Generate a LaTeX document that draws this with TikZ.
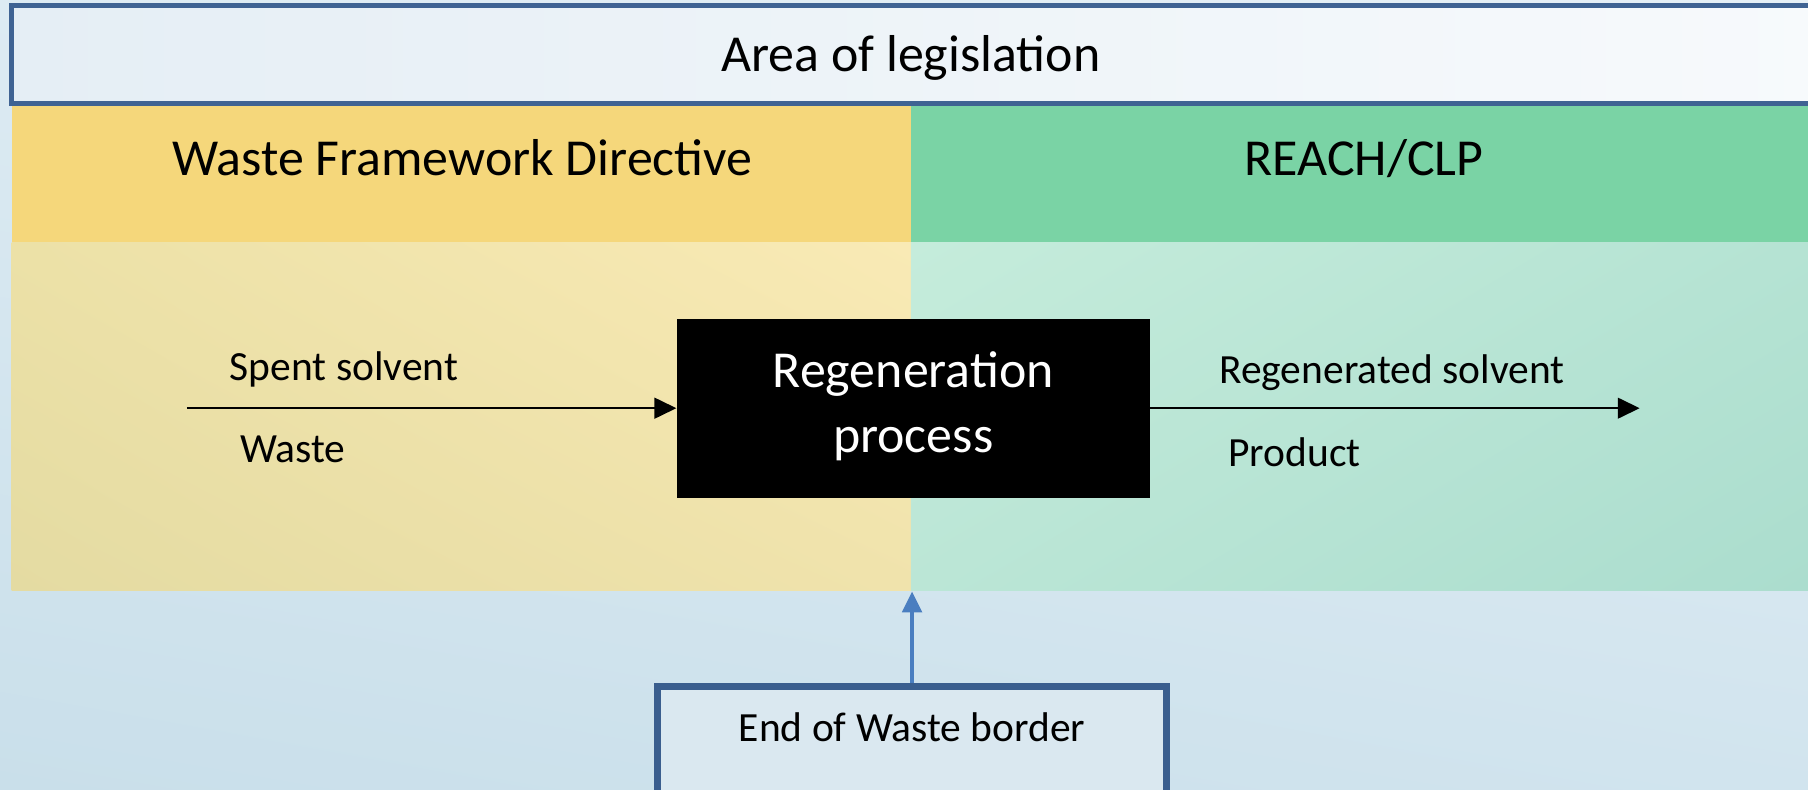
\documentclass[tikz,border=0pt]{standalone}
\usepackage{fontspec}
\setmainfont{Carlito}
\usetikzlibrary{arrows.meta,shadings}
\definecolor{bgUL}{HTML}{DDEBF3}
\definecolor{bgUR}{HTML}{E6F0F6}
\definecolor{bgLL}{HTML}{C9DFEA}
\definecolor{bgLR}{HTML}{D1E4EE}
\definecolor{topL}{HTML}{E5EEF5}
\definecolor{topR}{HTML}{F7FAFC}
\definecolor{frameblue}{HTML}{3F6393}
\definecolor{frameblue2}{HTML}{3A5E8E}
\definecolor{wfdhead}{HTML}{F5D77B}
\definecolor{reachhead}{HTML}{7AD3A5}
\definecolor{wfdUL}{HTML}{ECE1A7}
\definecolor{wfdUR}{HTML}{F9EAB5}
\definecolor{wfdLL}{HTML}{E4DBA2}
\definecolor{wfdLR}{HTML}{F0E3AC}
\definecolor{reUL}{HTML}{C5ECDB}
\definecolor{reUR}{HTML}{B5E3D3}
\definecolor{reLL}{HTML}{BBE6D6}
\definecolor{reLR}{HTML}{ABDDCE}
\definecolor{eowfill}{HTML}{DAE8F0}
\definecolor{arrowblue}{HTML}{4A7EC0}
\begin{document}
\begin{tikzpicture}[x=0.5pt,y=-0.5pt,
  big/.style={font=\fontsize{22.5}{28}\selectfont, inner sep=0pt},
  small/.style={font=\fontsize{18}{22}\selectfont, inner sep=0pt},
  flow/.style={line width=0.9pt, -{Triangle[length=9.5pt,width=9pt]}},
  borderarrow/.style={draw=arrowblue, line width=1.5pt, -{Triangle[length=9pt,width=8.5pt]}, color=arrowblue}]
\useasboundingbox (0,0) rectangle (1568,685);
\clip (0,0) rectangle (1568,685);
% background
\shade[upper left=bgUL, upper right=bgUR, lower left=bgLL, lower right=bgLR] (0,0) rectangle (1568,685);
% top box
\shade[left color=topL, right color=topR] (10,5) rectangle (1590,90);
\draw[draw=frameblue, line width=2pt] (10,5) rectangle (1590,90);
\node[big, anchor=base] (area) at (790,62) {Area of legislation};
% headers
\fill[wfdhead] (10,92) rectangle (790,210);
\fill[reachhead] (790,92) rectangle (1568,210);
\node[big, anchor=base] (wfd) at (401,152) {Waste Framework Directive};
\node[big, anchor=base] (reach) at (1183,152) {REACH/CLP};
% lower areas
\shade[upper left=wfdUL, upper right=wfdUR, lower left=wfdLL, lower right=wfdLR] (10,210) rectangle (790,512);
\shade[upper left=reUL, upper right=reUR, lower left=reLL, lower right=reLR] (790,210) rectangle (1568,512);
% regeneration box
\node[fill=black, minimum width=205pt, minimum height=77.5pt, inner sep=0pt] (regen) at (792,354) {};
\node[big, text=white, anchor=base] (regen1) at (792,336) {Regeneration};
\node[big, text=white, anchor=base] (regen2) at (792,392) {process};
% flows
\coordinate (in) at (162,354);
\coordinate (out) at (1422,354);
\draw[flow] (in) -- (regen.west);
\draw[flow] (regen.east) -- (out);
\node[small, anchor=base west] (spent) at (199,330) {Spent solvent};
\node[small, anchor=base west] (waste) at (208,401) {Waste};
\node[small, anchor=base west] (regsol) at (1057,333) {Regenerated solvent};
\node[small, anchor=base west] (product) at (1065,405) {Product};
% end of waste border
\node[draw=frameblue2, line width=3pt, fill=eowfill, minimum width=221pt, minimum height=100pt, inner sep=0pt, anchor=north] (eow) at (791,592) {};
\node[small, anchor=base] (eowlabel) at (791,643) {End of Waste border};
\coordinate (border) at (791,513);
\draw[borderarrow] (eow.north) -- (border);
\end{tikzpicture}
\end{document}
